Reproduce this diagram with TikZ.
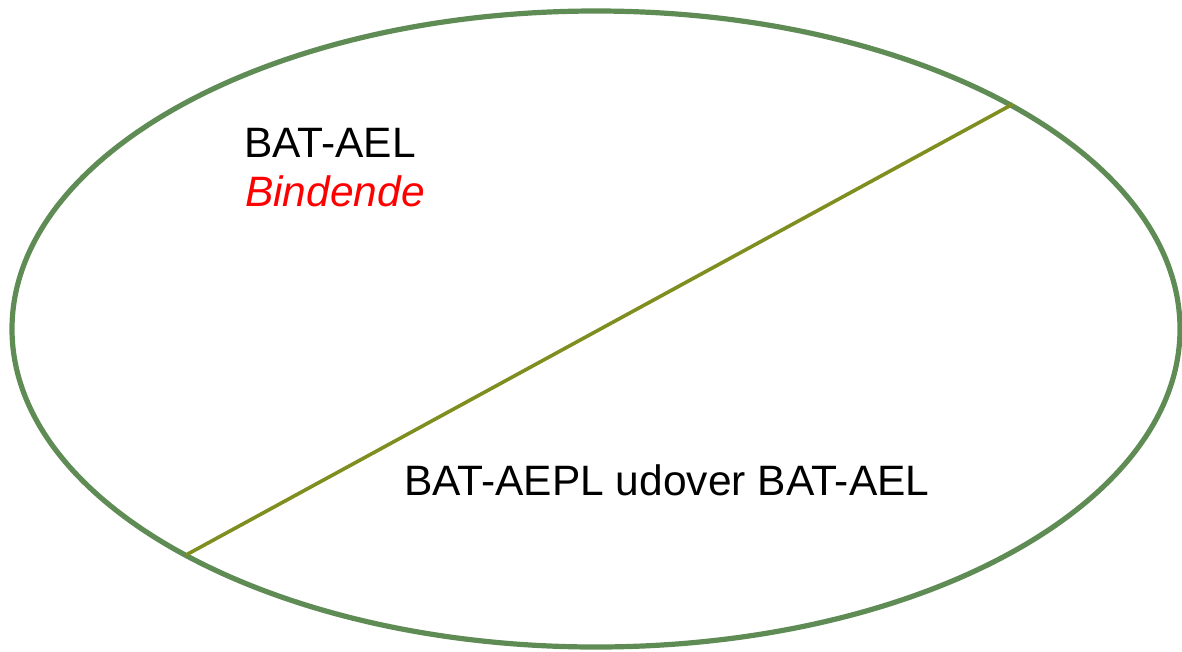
\documentclass[tikz,border=0pt]{standalone}
\usepackage{fontspec}
\setmainfont{Liberation Sans}
\definecolor{ellgreen}{HTML}{5F8B55}
\definecolor{olive}{HTML}{808E20}
\definecolor{red}{HTML}{FF0000}
\begin{document}
\begin{tikzpicture}[x=1pt,y=-1pt,
  lbl/.style={anchor=base west,inner sep=0pt,font=\fontsize{42.5}{50}\selectfont}]
\useasboundingbox (0,0) rectangle (1182,651);
\draw[ellgreen,line width=5.2pt] (596,329) ellipse [x radius=584, y radius=318];
\coordinate (p1) at (186,555);
\coordinate (p2) at (1013,104);
\draw[olive,line width=3.6pt] (p1) -- (p2);
\node[lbl] (t1) at (244,157) {BAT-AEL};
\node[lbl,text=red] (t2) at (245,206) {\itshape Bindende};
\node[lbl] (t3) at (404,495) {BAT-AEPL udover BAT-AEL};
\end{tikzpicture}
\end{document}
